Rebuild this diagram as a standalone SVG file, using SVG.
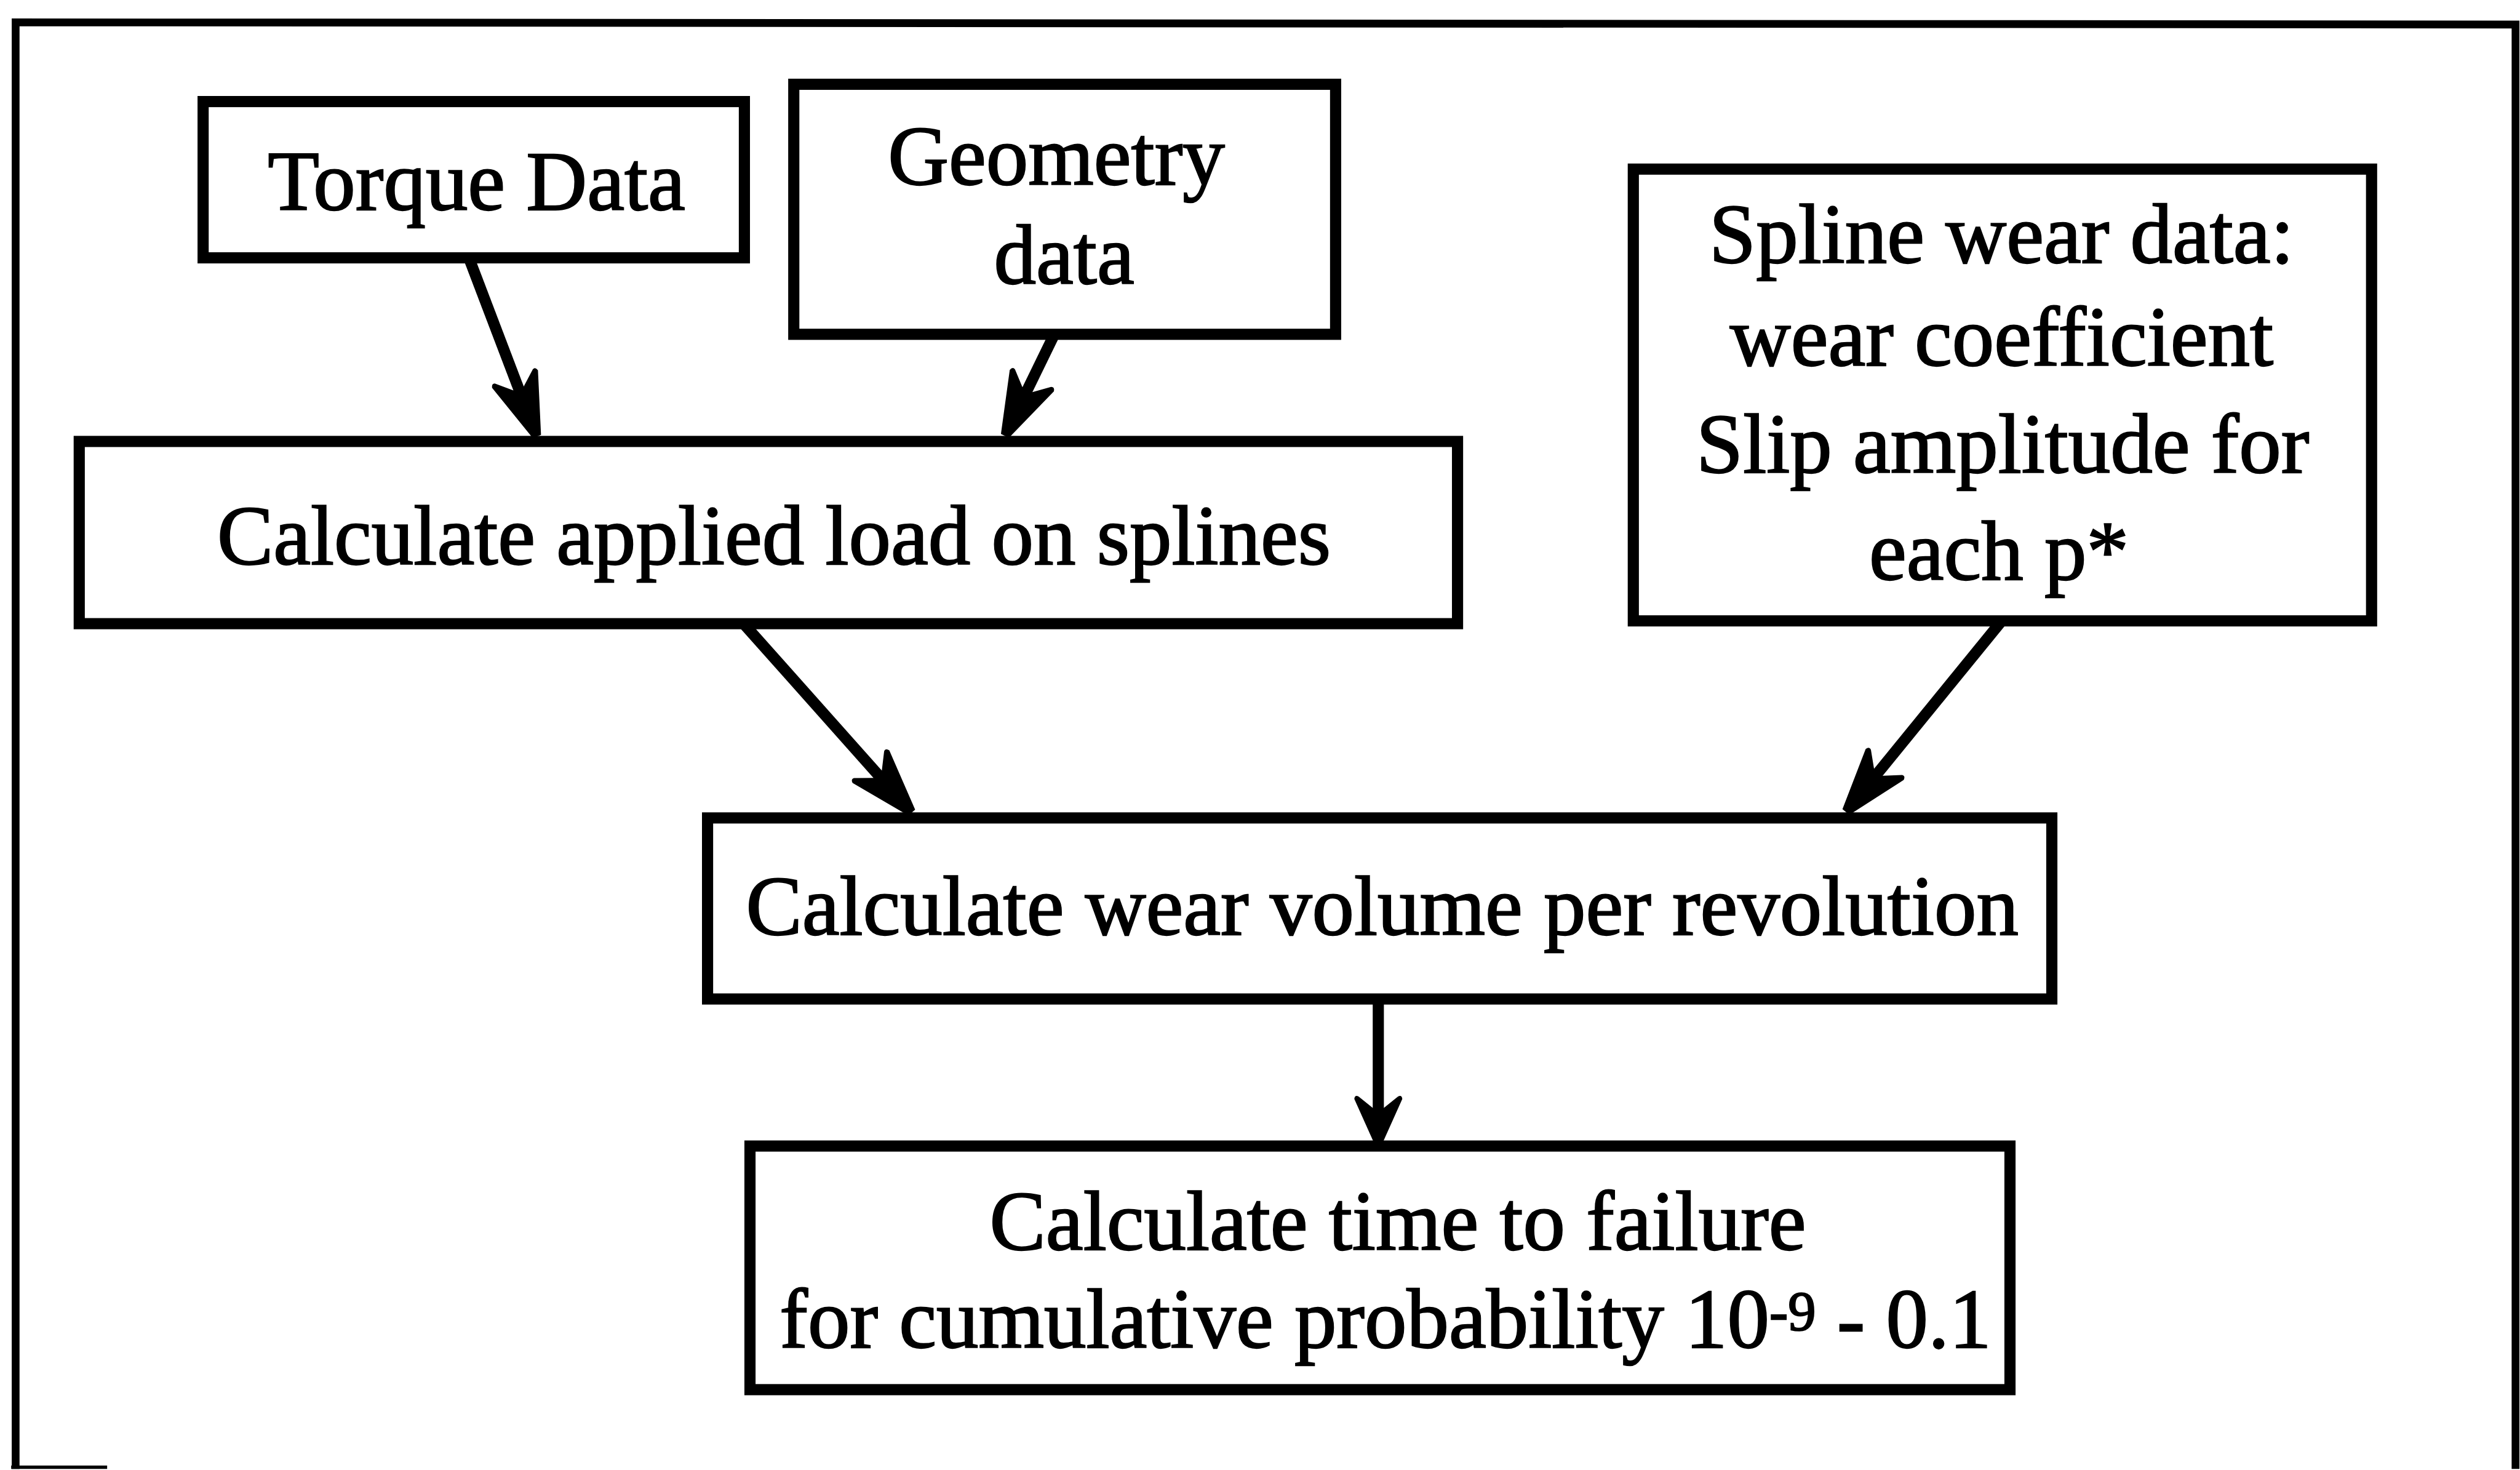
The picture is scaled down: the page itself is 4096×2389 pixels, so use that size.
<svg xmlns="http://www.w3.org/2000/svg" width="4096" height="2389" viewBox="0 0 4096 2389">
  <style>
    .box { fill: #ffffff; stroke: #000000; stroke-width: 20; }
    .lbl { font-family: "Liberation Serif", "Times New Roman", serif; font-size: 151px; fill: #000000; stroke: #000000; stroke-width: 2.5; text-anchor: middle; }
    .wire { fill: none; stroke: #000000; stroke-width: 20; stroke-linecap: butt; }
    .frame { fill: none; stroke: #000000; }
  </style>
  <defs>
    <!-- long barbed head: tip at (0,0), shaft joins 60 units behind the tip -->
    <marker id="head" markerUnits="userSpaceOnUse" viewBox="-125 -50 135 100" refX="-60" refY="0" markerWidth="135" markerHeight="100" orient="auto">
      <path d="M0,-8 L-110,-44 Q-118,-42 -115,-36 L-92,-10 L-92,10 L-115,36 Q-118,42 -110,44 L0,8 Z" fill="#000000"/>
    </marker>
    <!-- short barbed head used on the vertical link -->
    <marker id="headShort" markerUnits="userSpaceOnUse" viewBox="-95 -50 105 100" refX="-40" refY="0" markerWidth="105" markerHeight="100" orient="auto">
      <path d="M0,-9 L-76,-43 Q-84,-42 -80,-35 L-60,-10 L-60,10 L-80,35 Q-84,42 -76,43 L0,9 Z" fill="#000000"/>
    </marker>
  </defs>

  <rect x="0" y="0" width="4096" height="2389" fill="#ffffff"/>

  <g transform="scale(0.907)">
    <!-- outer frame -->
    <g id="frame">
      <path class="frame" d="M28,2632 L28,40 L4508,44 L4508,2632" stroke-width="14"/>
      <line class="frame" x1="20" y1="2629" x2="192" y2="2629" stroke-width="6"/>
    </g>

    <!-- connectors -->
    <g id="connectors">
      <path class="wire" d="M841.2,464.5 L940.7,725.9" marker-end="url(#head)"/>
      <path class="wire" d="M1909,559 L1827.2,727" marker-end="url(#head)"/>
      <path class="wire" d="M1334.4,1119.5 L1594.1,1411.2" marker-end="url(#head)"/>
      <path class="wire" d="M3608,1087 L3345.9,1408.5" marker-end="url(#head)"/>
      <path class="wire" d="M2470,1795 L2470,2005" marker-end="url(#headShort)"/>
    </g>

    <g id="torque-data">
      <rect class="box" x="364" y="182" width="970" height="280"/>
      <text class="lbl" x="854" y="376">Torque Data</text>
    </g>

    <g id="geometry-data">
      <rect class="box" x="1422.5" y="151" width="971" height="448"/>
      <text class="lbl" x="1893" y="331">Geometry</text>
      <text class="lbl" x="1907" y="508">data</text>
    </g>

    <g id="spline-wear-data">
      <rect class="box" x="2927" y="303" width="1323" height="809.5"/>
      <text class="lbl" x="3587" y="471">Spline wear data:</text>
      <text class="lbl" x="3587" y="655">wear coefficient</text>
      <text class="lbl" x="3589" y="847">Slip amplitude for</text>
      <text class="lbl" x="3582" y="1039">each p*</text>
    </g>

    <g id="applied-load">
      <rect class="box" x="142" y="791" width="2470" height="326.5"/>
      <text class="lbl" x="1387" y="1011">Calculate applied load on splines</text>
    </g>

    <g id="wear-volume">
      <rect class="box" x="1268" y="1465.6" width="2409" height="324.4"/>
      <text class="lbl" x="2477" y="1675">Calculate wear volume per revolution</text>
    </g>

    <g id="time-to-failure">
      <rect class="box" x="1344" y="2053.5" width="2258" height="436.5"/>
      <text class="lbl" x="2505" y="2239">Calculate time to failure</text>
      <text class="lbl" x="2483" y="2415">for cumulative probability 10<tspan font-size="100" dy="-31">-9</tspan><tspan dy="31"> - 0.1</tspan></text>
    </g>
  </g>
</svg>
